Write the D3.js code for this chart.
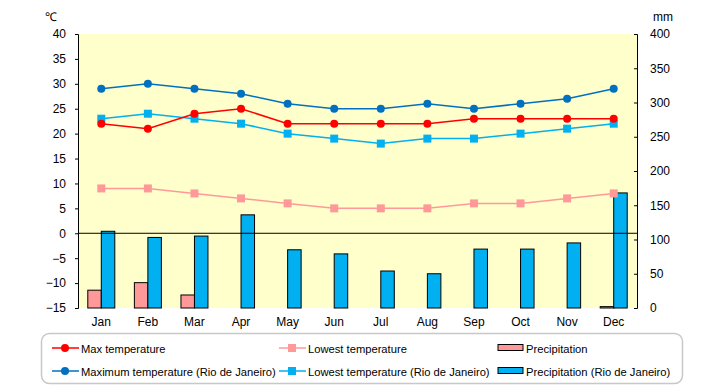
<!DOCTYPE html>
<meta charset="utf-8">
<script src="https://cdn.jsdelivr.net/npm/d3@7"></script>
<style>
body { margin: 0; background: #fff; }
text { font-family: "Liberation Sans", Arial, sans-serif; font-size: 12px; fill: #000; }
.leg text { font-size: 11.2px; }
</style>
<body>
<script>
var width = 720, height = 385;
var margin = {top: 34, right: 83, bottom: 77, left: 78};

var months = ["Jan","Feb","Mar","Apr","May","Jun","Jul","Aug","Sep","Oct","Nov","Dec"];
var maxTemp   = [22, 21, 24, 25, 22, 22, 22, 22, 23, 23, 23, 23];
var lowTemp   = [9, 9, 8, 7, 6, 5, 5, 5, 6, 6, 7, 8];
var rioMax    = [29, 30, 29, 28, 26, 25, 25, 26, 25, 26, 27, 29];
var rioLow    = [23, 24, 23, 22, 20, 19, 18, 19, 19, 20, 21, 22];
var precip    = [26, 37, 19, 0, 0, 0, 0, 0, 0, 0, 0, 2];
var rioPrecip = [112, 103, 105, 136, 85, 79, 54, 50, 86, 86, 95, 168];
var tempTicks = [40, 35, 30, 25, 20, 15, 10, 5, 0, -5, -10, -15];
var mmTicks   = [0, 50, 100, 150, 200, 250, 300, 350, 400];

var svg = d3.select("body").append("svg")
    .attr("width", width).attr("height", height);

var iw = width - margin.left - margin.right,
    ih = height - margin.top - margin.bottom;

var g = svg.append("g")
    .attr("transform", "translate(" + margin.left + "," + margin.top + ")");

var x = d3.scaleBand().domain(months).range([0, iw]);
var y = d3.scaleLinear().domain([-15, 40]).range([ih, 0]);
var y2 = d3.scaleLinear().domain([0, 400]).range([ih, 0]);

g.append("rect").attr("width", iw).attr("height", ih).attr("fill", "#ffffcc");

// bars
var bw = 13.5;
g.selectAll(".bp").data(precip).enter().append("rect")
    .attr("x", function(d, i) { return x(months[i]) + x.bandwidth() / 2 - bw; })
    .attr("y", function(d) { return y2(d); })
    .attr("width", bw)
    .attr("height", function(d) { return ih - y2(d); })
    .attr("fill", "#ff9999").attr("stroke", "#000").attr("stroke-width", 1)
    .style("display", function(d) { return d > 0 ? null : "none"; });

g.selectAll(".br").data(rioPrecip).enter().append("rect")
    .attr("x", function(d, i) { return x(months[i]) + x.bandwidth() / 2; })
    .attr("y", function(d) { return y2(d); })
    .attr("width", bw)
    .attr("height", function(d) { return ih - y2(d); })
    .attr("fill", "#00b0f0").attr("stroke", "#000").attr("stroke-width", 1);

// zero line
g.append("line").attr("x1", 0).attr("x2", iw)
    .attr("y1", y(0)).attr("y2", y(0)).attr("stroke", "#000");

var cx = function(d, i) { return x(months[i]) + x.bandwidth() / 2; };
var line = d3.line().x(cx).y(function(d) { return y(d); });

function series(data, color, shape) {
  g.append("path").datum(data).attr("d", line)
      .attr("fill", "none").attr("stroke", color).attr("stroke-width", 1.5);
  if (shape == "circle") {
    g.selectAll(null).data(data).enter().append("circle")
        .attr("cx", cx).attr("cy", function(d) { return y(d); })
        .attr("r", 4).attr("fill", color);
  } else {
    g.selectAll(null).data(data).enter().append("rect")
        .attr("x", function(d, i) { return cx(d, i) - 4; })
        .attr("y", function(d) { return y(d) - 4; })
        .attr("width", 8).attr("height", 8).attr("fill", color);
  }
}
series(lowTemp, "#ff9999", "square");
series(rioLow, "#00b0f0", "square");
series(maxTemp, "#ff0000", "circle");
series(rioMax, "#0070c0", "circle");

// axes
var ya = g.append("g").call(d3.axisLeft(y).tickValues(tempTicks).tickSize(3).tickPadding(9));
var ya2 = g.append("g").attr("transform", "translate(" + iw + ",0)")
    .call(d3.axisRight(y2).tickValues(mmTicks).tickSize(-3).tickPadding(13));
[ya, ya2].forEach(function(a) {
  a.select(".domain").attr("stroke", "#000");
  a.selectAll("text").style("font-size", "12px").attr("fill", "#000")
    .text(function(d) { return d < 0 ? "\u2212" + (-d) : d; });
});

g.selectAll(".mlab").data(months).enter().append("text")
    .attr("x", function(d) { return x(d) + x.bandwidth() / 2; })
    .attr("y", ih + 18)
    .attr("text-anchor", "middle")
    .text(function(d) { return d; });

svg.append("text").attr("x", 45).attr("y", 21).text("\u2103");
svg.append("text").attr("x", 653).attr("y", 21).text("mm");

// legend
svg.append("rect").attr("x", 41.5).attr("y", 333.5).attr("width", 641).attr("height", 50)
    .attr("rx", 8).attr("fill", "#fff").attr("stroke", "#c8c8c8").attr("stroke-width", 1.5);

var legend = [
  {name: "Max temperature", color: "#ff0000", type: "circle", x: 52, y: 348},
  {name: "Lowest temperature", color: "#ff9999", type: "square", x: 279, y: 348},
  {name: "Precipitation", color: "#ff9999", type: "bar", x: 498, y: 348},
  {name: "Maximum temperature (Rio de Janeiro)", color: "#0070c0", type: "circle", x: 52, y: 371},
  {name: "Lowest temperature (Rio de Janeiro)", color: "#00b0f0", type: "square", x: 279, y: 371},
  {name: "Precipitation (Rio de Janeiro)", color: "#00b0f0", type: "bar", x: 498, y: 371}
];
legend.forEach(function(l) {
  var lg = svg.append("g").attr("class", "leg");
  if (l.type == "bar") {
    lg.append("rect").attr("x", l.x).attr("y", l.y - 3.5).attr("width", 25).attr("height", 6)
        .attr("fill", l.color).attr("stroke", "#000");
    lg.append("text").attr("x", l.x + 28).attr("y", l.y + 4.5).text(l.name);
  } else {
    lg.append("line").attr("x1", l.x).attr("x2", l.x + 27).attr("y1", l.y).attr("y2", l.y)
        .attr("stroke", l.color).attr("stroke-width", 1.5);
    if (l.type == "circle")
      lg.append("circle").attr("cx", l.x + 13).attr("cy", l.y).attr("r", 4).attr("fill", l.color);
    else
      lg.append("rect").attr("x", l.x + 9).attr("y", l.y - 4).attr("width", 8).attr("height", 8).attr("fill", l.color);
    lg.append("text").attr("x", l.x + 29).attr("y", l.y + 4.5).text(l.name);
  }
});
</script>
</body>
</html>
